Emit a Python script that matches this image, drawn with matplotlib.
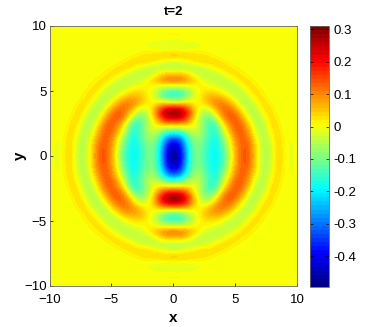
import numpy as np
import matplotlib
matplotlib.use("Agg")
import matplotlib.pyplot as plt
from matplotlib.colors import LinearSegmentedColormap

plt.rcParams['font.family'] = ['Liberation Sans', 'DejaVu Sans']

# upper right quadrant, x = 0..10, step 0.5
row_y0 = [-.49,-.42,-.25,-.12,-.09,-.13,-.18,-.19,-.15,-.06,.05,.13,.145,.09,0,-.06,-.04,.04,.025,-.012,0]
row_y05 = [-.47,-.41,-.25,-.12,-.09,-.13,-.18,-.19,-.14,-.05,.06,.13,.145,.085,-.005,-.06,-.03,.04,.022,-.012,0]
row_y1 = [-.42,-.37,-.22,-.11,-.08,-.12,-.17,-.19,-.12,-.03,.07,.13,.135,.075,-.012,-.06,-.025,.04,.02,-.012,0]
row_y15 = [-.30,-.27,-.17,-.08,-.06,-.10,-.16,-.175,-.09,0,.09,.135,.12,.05,-.025,-.055,-.012,.04,.014,-.006,0]
row_y2 = [-.12,-.11,-.07,-.03,-.04,-.09,-.15,-.16,-.05,.05,.12,.145,.10,.02,-.045,-.05,.012,.035,.007,-.006,0]
row_y25 = [.06,.06,.05,.02,-.03,-.10,-.16,-.13,0,.09,.13,.13,.075,-.012,-.06,-.035,.03,.033,-.006,0,0]
row_y3 = [.26,.24,.18,.07,-.03,-.09,-.11,-.03,.08,.13,.145,.10,.025,-.045,-.05,-.012,.04,.016,-.006,0,0]
row_y35 = [.31,.29,.22,.10,.01,-.06,-.04,.05,.11,.14,.11,.05,-.02,-.06,-.035,.025,.033,0,0,0,0]
row_y4 = [.13,.12,.10,.05,0,.02,.06,.10,.12,.10,.06,-.006,-.055,-.045,0,.04,.02,-.006,0,0,0]
row_y45 = [-.12,-.11,-.07,-.02,.01,.05,.08,.09,.08,.04,-.006,-.05,-.05,-.012,.033,.024,-.006,0,0,0,0]
row_y5 = [-.17,-.16,-.12,-.05,0,.03,.04,.03,.01,-.02,-.05,-.05,-.018,.033,.03,.006,-.004,0,0,0,0]
row_y55 = [-.02,-.02,-.01,0,.01,.01,0,-.012,-.035,-.05,-.045,-.015,.03,.03,.01,-.004,0,0,0,0,0]
row_y6 = [.13,.125,.10,.06,.03,-.02,-.035,-.05,-.05,-.035,0,.033,.03,.01,-.004,0,0,0,0,0,0]
row_y65 = [.05,.05,.03,-.01,-.05,-.055,-.05,-.035,-.012,.027,.037,.024,.006,-.004,0,0,0,0,0,0,0]
row_y7 = [-.07,-.065,-.055,-.05,-.035,-.018,0,.027,.04,.03,.016,0,-.004,0,0,0,0,0,0,0,0]
row_y75 = [-.01,-.005,.012,.027,.04,.044,.04,.033,.016,.003,-.005,-.003,0,0,0,0,0,0,0,0,0]
row_y8 = [.06,.057,.047,.04,.027,.024,.011,0,-.005,-.005,0,0,0,0,0,0,0,0,0,0,0]
row_y85 = [-.025,-.024,-.02,-.015,-.01,-.006,-.004,0,0,0,0,0,0,0,0,0,0,0,0,0,0]
row_y9 = [-.012,-.012,-.01,-.006,-.003,0,0,0,0,0,0,0,0,0,0,0,0,0,0,0,0]
row_y95 = [.015,.015,.012,.008,.004,0,0,0,0,0,0,0,0,0,0,0,0,0,0,0,0]
row_y10 = [0]*21

quadrant = np.array([row_y0,row_y05,row_y1,row_y15,row_y2,row_y25,row_y3,row_y35,row_y4,row_y45,
                     row_y5,row_y55,row_y6,row_y65,row_y7,row_y75,row_y8,row_y85,row_y9,row_y95,row_y10])
ticks_xy = [-10,-5,0,5,10]
ticks_cb = [-.4,-.3,-.2,-.1,0,.1,.2,.3]
labels_cb = ['-0.4','-0.3','-0.2','-0.1','0','0.1','0.2','0.3']

# the field is mirror symmetric in x and y
right = np.vstack([quadrant[:0:-1], quadrant])
field = np.hstack([right[:,:0:-1], right])

# old matlab jet, yellow sits at 5/8
jet_m = LinearSegmentedColormap('jet_m', {
    'red': [(0,0,0),(3/8,0,0),(5/8,1,1),(7/8,1,1),(1,.5,.5)],
    'green': [(0,0,0),(1/8,0,0),(3/8,1,1),(5/8,1,1),(7/8,0,0),(1,0,0)],
    'blue': [(0,.5,.5),(1/8,1,1),(3/8,1,1),(5/8,0,0),(1,0,0)]}, N=64)

W, H = 382, 327
fig = plt.figure(figsize=(W/100, H/100), dpi=100)
ax = fig.add_axes([49.5/W, 1-286/H, 247.5/W, 260/H])
im = ax.imshow(field, extent=[-10,10,-10,10], origin='lower', aspect='auto',
               cmap=jet_m, vmin=-0.495, vmax=0.31, interpolation='bicubic')
ax.set_xticks(ticks_xy)
ax.set_yticks(ticks_xy)
ax.tick_params(direction='in', length=2.5, width=0.5, labelsize=9.5, pad=2, colors='black')
ax.tick_params(axis='x', pad=6)
ax.set_title('t=2', fontsize=9.5, fontweight='bold', pad=8)
ax.set_xlabel('x', fontsize=11, fontweight='bold', labelpad=3)
ax.set_ylabel('y', fontsize=11, fontweight='bold', labelpad=-2)
for s in ax.spines.values():
    s.set_linewidth(0.6)
    s.set_color('#666666')

cax = fig.add_axes([310/W, 1-287/H, 19/W, 261/H])
cb = fig.colorbar(im, cax=cax)
cb.set_ticks(ticks_cb)
cb.set_ticklabels(labels_cb)
cax.tick_params(direction='in', length=2, width=0.5, labelsize=9.5, pad=3, left=True, right=True, colors='black')
cb.outline.set_linewidth(0.6)
cb.outline.set_edgecolor('#666666')

fig.savefig('out.png', dpi=100)
